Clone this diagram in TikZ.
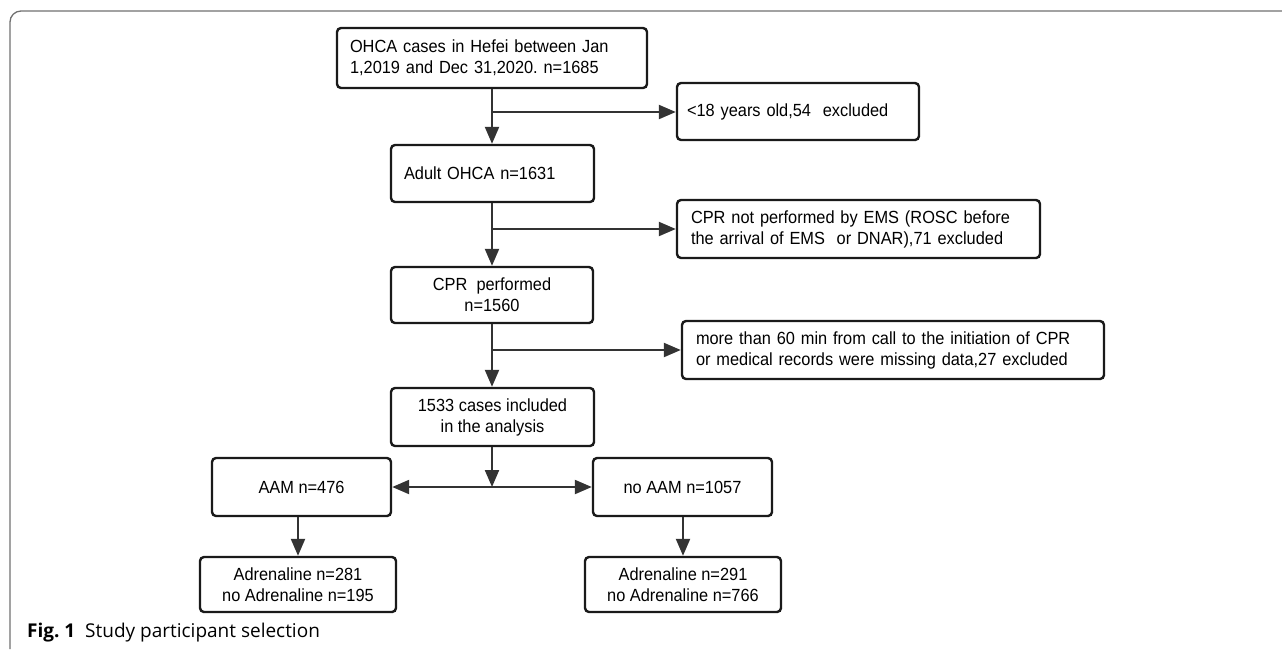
\documentclass[tikz,border=0pt]{standalone}
\usepackage{fontspec}
\setmainfont{Liberation Sans}[FakeStretch=0.93]
\newfontfamily\capfont{Open Sans}
\usetikzlibrary{arrows.meta}
\frenchspacing
\definecolor{boxc}{HTML}{1A1A1A}
\definecolor{arrc}{HTML}{333333}
\definecolor{framec}{HTML}{707070}
\tikzset{
  box/.style={draw=boxc, line width=2.4pt, rounded corners=4pt, fill=white,
    inner ysep=0pt, font=\fontsize{17.6}{21}\selectfont},
  lbox/.style={box, align=left},
  cbox/.style={box, align=center, inner xsep=0pt},
  arr/.style={draw=arrc, line width=2.2pt, -{Triangle[length=17pt,width=14pt]}},
  frame/.style={draw=framec, line width=1.3pt}
}
\begin{document}
\begin{tikzpicture}[x=1pt,y=-1pt]
\useasboundingbox (0,0) rectangle (1282,649);
% outer frame (top and left sides)
\draw[frame, rounded corners=11pt] (10,649) -- (10,11) -- (1282,11);

\node[lbox, text width=284pt, inner xsep=13pt, minimum height=60pt] (B1) at (492,58)
  {\mbox{OHCA cases in Hefei between Jan}\\\mbox{1,2019 and Dec 31,2020. n=1685}};
\node[lbox, text width=222pt, inner xsep=10pt, minimum height=57pt] (B2) at (798,111.5)
  {\mbox{<18 years old,54\ \ excluded}};
\node[lbox, text width=177pt, inner xsep=13pt, minimum height=57pt] (B3) at (492.5,173.5)
  {\mbox{Adult OHCA n=1631}};
\node[lbox, text width=335pt, inner xsep=14pt, minimum height=58pt] (B4) at (858.5,229)
  {\mbox{CPR not performed by EMS (ROSC before}\\\mbox{the arrival of EMS\ \ or DNAR),71 excluded}};
\node[cbox, minimum width=202pt, minimum height=56pt] (B5) at (492,295)
  {CPR\ \ performed\\n=1560};
\node[lbox, text width=394pt, inner xsep=14pt, minimum height=58pt] (B6) at (893,350)
  {\mbox{more than 60 min from call to the initiation of CPR}\\\mbox{or medical records were missing data,27 excluded}};
\node[cbox, minimum width=203pt, minimum height=58pt] (B7) at (492.5,417)
  {1533 cases included\\in the analysis};
\node[cbox, minimum width=179pt, minimum height=58pt] (B8) at (301.5,487)
  {AAM n=476};
\node[cbox, minimum width=179pt, minimum height=58pt] (B9) at (682.5,487)
  {no AAM n=1057};
\node[cbox, minimum width=196pt, minimum height=55pt] (B10) at (298,584.5)
  {Adrenaline n=281\\no Adrenaline n=195};
\node[cbox, minimum width=196pt, minimum height=55pt] (B11) at (683,584.5)
  {Adrenaline n=291\\no Adrenaline n=766};

\coordinate (J1) at (492,112);
\coordinate (J2) at (492,229);
\coordinate (J3) at (492,350);
\coordinate (J4) at (492,487);

\draw[arr] (J1 |- B1.south) -- (J1 |- B3.north);
\draw[arr] (J1) -- (B2.west |- J1);
\draw[arr] (J2 |- B3.south) -- (J2 |- B5.north);
\draw[arr] (J2) -- (B4.west |- J2);
\draw[arr] (J3 |- B5.south) -- (J3 |- B7.north);
\draw[arr] (J3) -- (B6.west |- J3);
\draw[arr] (J4 |- B7.south) -- (J4);
\draw[arr] (J4) -- (B8.east |- J4);
\draw[arr] (J4) -- (B9.west |- J4);
\draw[arr] (B10.north |- B8.south) -- (B10.north);
\draw[arr] (B11.north |- B9.south) -- (B11.north);

\node[anchor=base west, inner sep=0pt, font=\capfont\fontsize{19}{22}\selectfont] (cap) at (27,637)
  {\textbf{Fig. 1}\ \ Study participant selection};
\end{tikzpicture}
\end{document}
